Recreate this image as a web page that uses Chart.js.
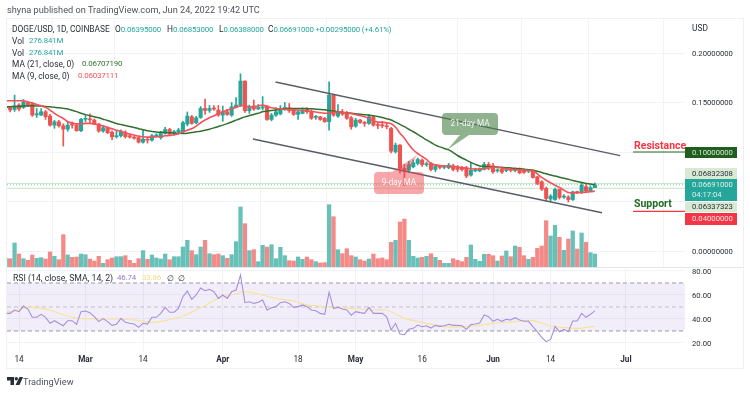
<!DOCTYPE html>
<html>
<head>
<meta charset="utf-8">
<title>DOGE/USD</title>
<script src="https://cdn.jsdelivr.net/npm/chart.js@4"></script>
<style>
    html, body { margin: 0; padding: 0; background: #fff; }
    body { width: 750px; height: 393px; position: relative; overflow: hidden; font-family: Roboto, sans-serif; color: #2a2e39; }
    canvas { position: absolute; left: 0; top: 0; }
    .t { position: absolute; white-space: nowrap; font-size: 8.4px; line-height: 10px; }
    .n { letter-spacing: -0.18px; font-size: 7.9px; }
    .up { color: #26a69a; }
    #frame { position: absolute; left: 6px; top: 18px; width: 736px; height: 349px; border: 1px solid #eef0f6; }
    #sep { position: absolute; left: 7px; top: 267px; width: 736px; height: 1px; background: #e4e7ef; }
</style>
</head>
<body>
<div id="frame"></div>
<canvas id="price-chart" width="750" height="393"></canvas>
<canvas id="rsi-chart" width="750" height="393"></canvas>
<div id="sep"></div>

<div class="t" style="left:7px;top:5px;font-size:9.2px;color:#50535e">shyna published on TradingView.com, Jun 24, 2022 19:42 UTC</div>
<div class="t" style="left:12px;top:24px">DOGE/USD, 1D, COINBASE</div>
<div class="t" style="left:115px;top:24px">O<span class="up n">0.06395000</span></div>
<div class="t" style="left:167px;top:24px">H<span class="up n">0.06853000</span></div>
<div class="t" style="left:219px;top:24px">L<span class="up n">0.06388000</span></div>
<div class="t" style="left:268px;top:24px">C<span class="up n">0.06691000 +0.00295000 (+4.61%)</span></div>
<div class="t" style="left:12px;top:36px">Vol</div><div class="t up n" style="left:29px;top:36px">276.841M</div>
<div class="t" style="left:12px;top:48px">Vol</div><div class="t up n" style="left:29px;top:48px">276.841M</div>
<div class="t" style="left:12px;top:59px">MA (21, close, 0)</div><div class="t n" style="left:82px;top:59px;color:#33702f">0.06707190</div>
<div class="t" style="left:12px;top:71px">MA (9, close, 0)</div><div class="t n" style="left:78px;top:71px;color:#f2525a">0.06037111</div>
<div class="t" style="left:692px;top:23px">USD</div>
<div class="t" style="left:13px;top:273px;font-size:8.7px">RSI (14, close, SMA, 14, 2)</div>
<div class="t n" style="left:117px;top:273px;color:#9575cd">46.74</div>
<div class="t n" style="left:142px;top:273px;color:#f5dc82">33.86</div>
<div class="t" style="left:167px;top:273px">∅</div>
<div class="t" style="left:178px;top:273px">∅</div>

<svg style="position:absolute;left:7px;top:377px" width="16" height="8" viewBox="0 0 16 8">
    <path fill="#2a2e39" d="M0 0H7V8H3.5V3.5H0Z M12.5 0H16L12.5 8H8.5Z"/>
    <circle fill="#2a2e39" cx="9.3" cy="1.8" r="1.7"/>
</svg>
<div class="t" style="left:23px;top:375px;font-size:9.2px;line-height:13px;color:#50535e">TradingView</div>

<script>
// --- Data (index 0 = Feb 11 2022, one entry per day) ---
const opens = [
    .1445,.1450,.1430,.1475,.1450,.1500,.1485,.1375,.1373,.1407,
    .1363,.1272,.1305,.1265,.1231,.1278,.1272,.1215,.1330,.1335,
    .1323,.1282,.1212,.1238,.1200,.1155,.1165,.1200,.1165,.1150,
    .1145,.1100,.1130,.1120,.1163,.1145,.1188,.1228,.1190,.1205,
    .1201,.1282,.1356,.1295,.1349,.1440,.1420,.1440,.1424,.1373,
    .1407,.1373,.1457,.1475,.1717,.1417,.1464,.1434,.1445,.1464,
    .1329,.1373,.1385,.1440,.1447,.1424,.1380,.1390,.1430,.1407,
    .1350,.1356,.1340,.1306,.1575,.1363,.1397,.1397,.1346,.1261,
    .1323,.1299,.1289,.1356,.1272,.1268,.1265,.1238,.1002,.1070,
    .0834,.0817,.0851,.0885,.0918,.0872,.0884,.0824,.0850,.0845,
    .0841,.0861,.0844,.0840,.0834,.0767,.0810,.0810,.0824,.0875,
    .0861,.0810,.0824,.0812,.0825,.0815,.0827,.0815,.0805,.0807,
    .0750,.0699,.0632,.0525,.0520,.0622,.0545,.0545,.0520,.0598,
    .0590,.0650,.0608,.0640];
const closes = [
    .1450,.1425,.1465,.1435,.1505,.1470,.1373,.1387,.1407,.1356,
    .1272,.1305,.1265,.1231,.1272,.1272,.1215,.1330,.1335,.1325,
    .1282,.1212,.1245,.1195,.1154,.1165,.1212,.1155,.1150,.1140,
    .1100,.1130,.1120,.1165,.1167,.1188,.1228,.1180,.1205,.1222,
    .1296,.1363,.1289,.1345,.1440,.1420,.1440,.1435,.1373,.1407,
    .1380,.1457,.1475,.1717,.1417,.1457,.1434,.1450,.1452,.1329,
    .1373,.1407,.1430,.1445,.1417,.1380,.1407,.1424,.1407,.1340,
    .1356,.1329,.1306,.1575,.1373,.1407,.1383,.1340,.1255,.1323,
    .1299,.1289,.1356,.1272,.1268,.1265,.1255,.1009,.1070,.0834,
    .0817,.0874,.0891,.0925,.0874,.0875,.0824,.0861,.0845,.0850,
    .0868,.0824,.0824,.0824,.0757,.0817,.0820,.0825,.0875,.0834,
    .0800,.0815,.0797,.0816,.0815,.0822,.0790,.0795,.0812,.0743,
    .0682,.0625,.0531,.0555,.0622,.0541,.0552,.0520,.0598,.0590,
    .0665,.0608,.0640,.0669];
const highs = [
    .1465,.1457,.1575,.1490,.1530,.1510,.1500,.1440,.1440,.1420,
    .1380,.1320,.1320,.1285,.1300,.1305,.1290,.1340,.1370,.1385,
    .1335,.1290,.1270,.1255,.1215,.1220,.1225,.1215,.1180,.1160,
    .1160,.1220,.1145,.1180,.1185,.1210,.1250,.1240,.1220,.1240,
    .1310,.1405,.1370,.1360,.1460,.1535,.1470,.1470,.1470,.1465,
    .1430,.1500,.1550,.1790,.1720,.1475,.1525,.1480,.1560,.1470,
    .1390,.1450,.1470,.1500,.1490,.1435,.1415,.1445,.1450,.1425,
    .1370,.1360,.1350,.1710,.1580,.1480,.1430,.1410,.1360,.1340,
    .1330,.1310,.1380,.1370,.1300,.1310,.1290,.1250,.1090,.1075,
    .0875,.0905,.0920,.0940,.0930,.0900,.0895,.0875,.0865,.0865,
    .0885,.0875,.0865,.0855,.0855,.0885,.0835,.0840,.0895,.0895,
    .0885,.0830,.0835,.0830,.0840,.0830,.0840,.0830,.0820,.0820,
    .0755,.0710,.0645,.0570,.0635,.0625,.0570,.0560,.0605,.0605,
    .0695,.0670,.0660,.0685];
const lows = [
    .1425,.1405,.1410,.1415,.1440,.1460,.1360,.1350,.1370,.1330,
    .1260,.1240,.1250,.1060,.1210,.1240,.1210,.1205,.1305,.1300,
    .1275,.1200,.1200,.1185,.1125,.1140,.1150,.1140,.1140,.1130,
    .1090,.1090,.1090,.1110,.1150,.1130,.1180,.1170,.1170,.1180,
    .1190,.1265,.1280,.1285,.1340,.1380,.1400,.1420,.1360,.1310,
    .1370,.1360,.1455,.1460,.1400,.1390,.1420,.1430,.1425,.1320,
    .1315,.1360,.1375,.1420,.1400,.1370,.1330,.1385,.1390,.1330,
    .1330,.1320,.1300,.1220,.1360,.1350,.1370,.1330,.1230,.1250,
    .1290,.1260,.1280,.1260,.1235,.1245,.1235,.0990,.0990,.0790,
    .0660,.0800,.0840,.0870,.0855,.0855,.0810,.0800,.0830,.0830,
    .0830,.0810,.0800,.0810,.0740,.0755,.0800,.0800,.0820,.0820,
    .0785,.0795,.0785,.0800,.0800,.0800,.0780,.0785,.0790,.0735,
    .0670,.0610,.0510,.0500,.0510,.0525,.0530,.0495,.0510,.0580,
    .0580,.0600,.0600,.0639];
const volumes = [ // millions
    178,178,511,277,178,142,256,185,199,170,
    320,227,156,689,256,206,213,277,263,170,
    128,227,78,156,192,220,220,241,142,78,
    178,348,163,256,192,170,277,156,220,220,
    426,568,348,263,426,568,284,263,277,241,
    185,263,540,1278,923,348,369,114,462,426,
    476,178,419,241,135,128,213,163,213,156,
    114,85,92,1328,1072,369,284,390,241,213,
    156,128,170,277,178,192,156,525,568,959,
    1022,568,227,192,206,227,284,206,142,78,
    78,178,142,114,206,469,163,121,270,270,
    241,128,234,341,220,447,419,241,163,206,
    398,447,987,660,888,632,355,596,767,383,
    724,525,305,277];
const ma21 = [
    .1457,.1458,.1460,.1462,.1464,.1466,.1467,.1466,.1464,.1461,
    .1457,.1452,.1447,.1441,.1434,.1422,.1408,.1392,.1378,.1367,
    .1356,.1346,.1332,.1318,.1303,.1289,.1278,.1268,.1258,.1248,
    .1236,.1226,.1215,.1208,.1203,.1200,.1198,.1195,.1192,.1190,
    .1188,.1190,.1197,.1204,.1211,.1220,.1231,.1244,.1258,.1272,
    .1287,.1303,.1322,.1339,.1355,.1368,.1380,.1392,.1407,.1413,
    .1419,.1425,.1431,.1436,.1440,.1440,.1440,.1440,.1438,.1436,
    .1433,.1430,.1426,.1420,.1414,.1408,.1403,.1397,.1392,.1387,
    .1382,.1377,.1372,.1366,.1358,.1348,.1336,.1323,.1302,.1280,
    .1256,.1230,.1205,.1178,.1150,.1122,.1096,.1070,.1052,.1036,
    .1022,.0995,.0965,.0940,.0918,.0895,.0875,.0858,.0855,.0853,
    .0851,.0848,.0845,.0842,.0838,.0835,.0831,.0827,.0822,.0817,
    .0806,.0794,.0781,.0767,.0757,.0746,.0735,.0724,.0713,.0702,
    .0692,.0683,.0676,.0671];
const ma9 = [
    .1518,.1518,.1518,.1518,.1518,.1505,.1494,.1481,.1467,.1451,
    .1424,.1390,.1363,.1339,.1306,.1292,.1285,.1285,.1289,.1289,
    .1285,.1272,.1262,.1248,.1235,.1221,.1208,.1194,.1181,.1171,
    .1161,.1154,.1151,.1151,.1154,.1157,.1164,.1167,.1174,.1184,
    .1204,.1221,.1235,.1262,.1296,.1323,.1346,.1366,.1390,.1407,
    .1424,.1437,.1451,.1467,.1467,.1457,.1460,.1465,.1474,.1462,
    .1447,.1440,.1435,.1432,.1430,.1427,.1424,.1420,.1417,.1411,
    .1404,.1397,.1392,.1392,.1400,.1407,.1402,.1395,.1388,.1378,
    .1368,.1356,.1340,.1315,.1303,.1300,.1296,.1285,.1250,.1190,
    .1140,.1075,.1020,.0985,.0955,.0925,.0884,.0870,.0863,.0860,
    .0857,.0853,.0848,.0844,.0838,.0832,.0828,.0830,.0834,.0842,
    .0848,.0845,.0838,.0832,.0826,.0822,.0820,.0817,.0814,.0810,
    .0780,.0743,.0715,.0690,.0665,.0642,.0615,.0590,.0587,.0588,
    .0591,.0595,.0600,.0604];
const rsi = [
    44.7,44.7,47.5,46.1,50.8,48.3,41.4,41.4,43.9,41.4,
    36.4,38.6,36.4,34.4,38.6,38.6,35.6,46.1,46.7,45.3,
    41.9,37.8,40.3,37.8,34.7,35.6,40.5,37.2,36.4,35.8,
    33.0,36.4,35.8,41.4,41.4,44.7,49.7,45.6,45.6,48.9,
    58.6,63.3,56.4,60.0,65.8,63.6,64.7,62.8,57.2,60.0,
    57.2,62.8,64.2,76.7,53.6,54.4,53.0,53.9,55.8,47.5,
    49.4,50.3,53.6,54.4,53.0,49.7,50.3,51.7,50.3,47.5,
    46.9,44.7,43.9,62.2,48.9,49.7,48.3,47.5,43.1,46.1,
    45.3,44.7,49.7,44.7,44.7,44.7,41.9,30.8,36.4,27.5,
    26.9,31.4,32.2,35.0,33.6,34.4,32.5,34.7,33.9,34.4,
    35.6,34.7,34.7,34.4,31.4,35.3,35.8,36.7,43.3,41.9,
    38.1,39.7,38.1,39.7,39.2,41.1,39.2,38.1,38.1,33.6,
    29.4,24.7,21.1,23.0,33.6,29.4,31.4,29.4,38.3,38.3,
    44.7,41.4,43.9,46.74];
const rsiMaDays = [0,2,5,8,10,13,16,19,22,25,29,33,36,40,44,48,51,54,57,61,65,68,72,78,83,86,88,90,94,98,101,106,110,115,118,120,123,126,129,133];
const rsiMa = [45.6,46.7,49.7,48.9,47.5,43.3,40.8,40.3,40,40,39.2,37.2,38.6,42.5,49.4,57.2,60,62.8,60.8,57.2,55,51.7,50.3,48.9,47.5,47.5,44.2,40.5,37.2,34.2,33,34.2,36.4,37.8,38.9,37.8,34.2,32.8,32.2,33.86];

const tickDays = [3,18,31,49,66,79,94,110,123,140];
const tickNames = ['14','Mar','14','Apr','18','May','16','Jun','14','Jul'];
const priceTicks = [0,0.05,0.1,0.15,0.2];
const priceTickNames = ['0.00000000','','','0.15000000','0.20000000'];
const rsiTicks = [20,40,60,80];
const rsiBands = [70,50,30];
const trendUpperDays = [60.9,138.7];
const trendUpper = [.1707,.0963];
const trendLowerDays = [55.8,134.6];
const trendLower = [.1131,.0387];
const priceLines = [0.06832308,0.06691,0.06337323];
const resistanceDays = [141.6,153.4];
const resistance = [0.1,0.1];
const supportDays = [141.6,153.4];
const support = [0.04,0.04];

const GREEN = '#26a69a', RED = '#ef5350';
const GRID = '#f1f3f9';
const X_MIN = 0.29, X_MAX = 153.34;
const AXIS_FONT = { family: 'Roboto, sans-serif', size: 7.7 };

Chart.defaults.animation = false;
Chart.defaults.responsive = false;

const days = opens.map((_, i) => i);
const isUp = i => closes[i] >= opens[i];
const pts = (xs, ys) => xs.map((x, i) => ({ x: x, y: ys[i] }));

function lineDs(data, color, width, extra) {
    return Object.assign({
        type: 'line', data: data, borderColor: color, borderWidth: width,
        pointRadius: 0, fill: false, tension: 0, yAxisID: 'y'
    }, extra || {});
}

function xScale(showLabels) {
    return {
        type: 'linear', min: X_MIN, max: X_MAX, offset: false,
        border: { display: false },
        grid: { color: GRID, drawTicks: false },
        afterBuildTicks: axis => { axis.ticks = tickDays.map(v => ({ value: v })); },
        afterFit: axis => { axis.height = showLabels ? 17 : 0; },
        ticks: showLabels ? {
            display: true, autoSkip: false, maxRotation: 0, padding: 4, color: '#2a2e39',
            callback: (v, i) => tickNames[i],
            font: ctx => ({ family: AXIS_FONT.family, size: 8.2, weight: isNaN(tickNames[ctx.index]) ? 'bold' : 'normal' })
        } : { display: false }
    };
}

// canvas middle baseline sits a pixel high at this font size
const nudgeLabels = {
    id: 'nudgeLabels',
    beforeDraw(chart) {
        chart.scales.y.getLabelItems().forEach(item => { item.options.translation[1] += 1; });
    }
};

// rounded callouts, price tags and the two level captions on the main pane
const annotationsPlugin = {
    id: 'annotations',
    afterDraw(chart) {
        const ctx = chart.ctx;
        ctx.save();
        callout(ctx, 442, 113, 56, 22, [[460, 135], [447, 150], [469, 135]], 'rgba(76,131,75,0.62)', '21-day MA');
        callout(ctx, 374, 172, 50, 22, [[392, 172], [417, 155], [407, 172]], 'rgba(242,70,80,0.48)', '9-day MA');

        ctx.font = 'bold 10.5px Roboto, sans-serif';
        ctx.textAlign = 'left';
        ctx.textBaseline = 'middle';
        ctx.fillStyle = '#f23645';
        ctx.fillText('Resistance', 634, 146);
        ctx.fillStyle = '#1e6b22';
        ctx.fillText('Support', 634, 204);

        tag(ctx, 147, 11, '#1f5e1f', '#d8ead8', '0.10000000');
        tag(ctx, 168, 11, '#d8ead4', '#2a2e39', '0.06832308');
        tag(ctx, 179, 22, '#26a69a', '#d8f2ef', '0.06691000', '04:17:04');
        tag(ctx, 202, 10, '#d8ead4', '#2a2e39', '0.06337323');
        tag(ctx, 213, 12, '#f23645', '#fde3e5', '0.04000000');
        ctx.restore();
    }
};

function callout(ctx, x, y, w, h, tail, fill, text) {
    ctx.fillStyle = fill;
    ctx.beginPath();
    ctx.roundRect(x, y, w, h, 4);
    ctx.moveTo(tail[0][0], tail[0][1]);
    ctx.lineTo(tail[1][0], tail[1][1]);
    ctx.lineTo(tail[2][0], tail[2][1]);
    ctx.closePath();
    ctx.fill();
    ctx.fillStyle = 'rgba(255,255,255,0.9)';
    ctx.font = '8.2px Roboto, sans-serif';
    ctx.textAlign = 'center';
    ctx.textBaseline = 'middle';
    ctx.fillText(text, x + w / 2, y + h / 2);
}

function tag(ctx, y, h, bg, fg, text, text2) {
    ctx.fillStyle = bg;
    ctx.fillRect(685, y, 52, h);
    ctx.fillStyle = fg;
    ctx.font = '7.7px Roboto, sans-serif';
    ctx.textAlign = 'left';
    ctx.textBaseline = 'middle';
    if (text2) {
        ctx.fillText(text, 692, y + h / 4 + 0.5);
        ctx.fillText(text2, 692, y + 3 * h / 4);
    } else {
        ctx.fillText(text, 692, y + h / 2 + 0.5);
    }
}

new Chart(document.getElementById('price-chart'), {
    type: 'bar',
    data: {
        datasets: [
            lineDs(pts([X_MIN, X_MAX], [priceLines[0], priceLines[0]]), '#c9e4c5', 1, { order: 9 }),
            lineDs(pts([X_MIN, X_MAX], [priceLines[1], priceLines[1]]), '#7cc5bc', 1, { order: 9, borderDash: [1, 2] }),
            lineDs(pts([X_MIN, X_MAX], [priceLines[2], priceLines[2]]), '#c9e4c5', 1, { order: 9 }),
            {
                label: 'Vol', yAxisID: 'v', grouped: false, order: 8, barThickness: 3.6,
                data: days.map(i => ({ x: i, y: volumes[i] })),
                backgroundColor: days.map(i => isUp(i) ? 'rgba(38,166,154,0.7)' : 'rgba(239,83,80,0.68)')
            },
            {
                label: 'Wick', yAxisID: 'y', grouped: false, order: 7, barThickness: 1,
                data: days.map(i => ({ x: i, y: [lows[i], highs[i]] })),
                backgroundColor: days.map(i => isUp(i) ? GREEN : RED)
            },
            {
                label: 'Body', yAxisID: 'y', grouped: false, order: 6, barThickness: 3.4, minBarLength: 1,
                data: days.map(i => ({ x: i, y: [Math.min(opens[i], closes[i]), Math.max(opens[i], closes[i])] })),
                backgroundColor: days.map(i => isUp(i) ? GREEN : RED)
            },
            lineDs(pts(days, ma21), '#33702f', 1.5, { order: 5, tension: 0.3 }),
            lineDs(pts(days, ma9), '#f2525a', 1.6, { order: 4, tension: 0.3 }),
            lineDs(pts(trendUpperDays, trendUpper), '#5a5d66', 1.4, { order: 3 }),
            lineDs(pts(trendLowerDays, trendLower), '#5a5d66', 1.4, { order: 3 }),
            lineDs(pts(resistanceDays, resistance), '#1e6b22', 1.2, { order: 2 }),
            lineDs(pts(supportDays, support), '#f23645', 1.2, { order: 2 })
        ]
    },
    options: {
        layout: { padding: { left: 7, right: 7, top: 18, bottom: 126 } },
        plugins: { legend: { display: false }, tooltip: { enabled: false } },
        scales: {
            x: xScale(false),
            v: { display: false, min: 0, max: 5304 },
            y: {
                position: 'right', min: -0.01616, max: 0.2354,
                border: { display: false },
                grid: { color: GRID, drawTicks: false },
                afterBuildTicks: axis => { axis.ticks = priceTicks.map(v => ({ value: v })); },
                afterFit: axis => { axis.width = 58; },
                ticks: {
                    padding: 7, crossAlign: 'near', color: '#2a2e39', font: AXIS_FONT, autoSkip: false,
                    callback: (v, i) => priceTickNames[i]
                }
            }
        }
    },
    plugins: [annotationsPlugin, nudgeLabels]
});

new Chart(document.getElementById('rsi-chart'), {
    type: 'line',
    data: {
        datasets: [
            lineDs(pts([X_MIN, X_MAX], [rsiBands[0], rsiBands[0]]), '#9a9aa6', 1, {
                borderDash: [4, 3], order: 5, fill: { target: { value: rsiBands[2] }, above: 'rgba(126,87,194,0.1)' }
            }),
            lineDs(pts([X_MIN, X_MAX], [rsiBands[1], rsiBands[1]]), '#c9c9d2', 1, { borderDash: [4, 3], order: 5 }),
            lineDs(pts([X_MIN, X_MAX], [rsiBands[2], rsiBands[2]]), '#9a9aa6', 1, { borderDash: [4, 3], order: 5 }),
            lineDs(pts(rsiMaDays, rsiMa), '#f6e3a0', 1.2, { order: 2, tension: 0.3 }),
            lineDs(pts(days, rsi), '#a78fdc', 1.1, { order: 1 })
        ]
    },
    options: {
        layout: { padding: { left: 7, right: 7, top: 268, bottom: 25 } },
        plugins: { legend: { display: false }, tooltip: { enabled: false } },
        scales: {
            x: xScale(true),
            y: {
                position: 'right', min: 13.33, max: 82.5,
                border: { display: false },
                grid: { color: GRID, drawTicks: false },
                afterBuildTicks: axis => { axis.ticks = rsiTicks.map(v => ({ value: v })); },
                afterFit: axis => { axis.width = 58; },
                ticks: {
                    padding: 7, crossAlign: 'near', color: '#2a2e39', font: AXIS_FONT, autoSkip: false,
                    callback: v => v.toFixed(2)
                }
            }
        }
    },
    plugins: [nudgeLabels]
});
</script>
</body>
</html>
